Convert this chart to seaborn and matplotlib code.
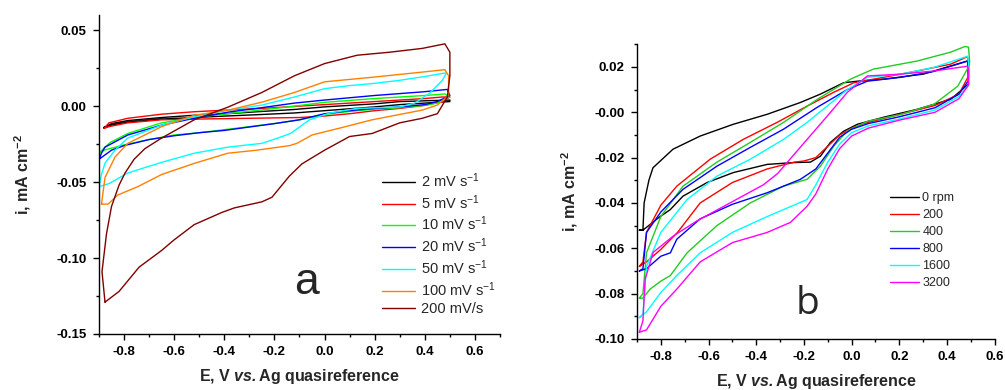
import numpy as np
import pandas as pd
import matplotlib
matplotlib.use("Agg")
import matplotlib.pyplot as plt
from matplotlib.ticker import MultipleLocator, FormatStrFormatter
from matplotlib.lines import Line2D
import seaborn as sns

# ---------------- data: panel a (scan rate) ----------------
a_labels = ["2 mV s$^{-1}$", "5 mV s$^{-1}$", "10 mV s$^{-1}$", "20 mV s$^{-1}$",
            "50 mV s$^{-1}$", "100 mV s$^{-1}$", "200 mV/s"]
a_colors = ["#000000", "#FF0000", "#00FF00", "#0000FF", "#00FFFF", "#FF8000", "#800000"]

a2_E = [-0.88, -0.85, -0.785, -0.65, -0.52, -0.39, -0.25, -0.12, 0.0, 0.2, 0.3, 0.4, 0.5,
        0.5, 0.4, 0.3, 0.2, 0.0, -0.12, -0.25, -0.39, -0.52, -0.65, -0.785, -0.85, -0.88]
a2_i = [-0.014, -0.0115, -0.0095, -0.0075, -0.006, -0.005, -0.0035, -0.0022, -0.0005, 0.0015, 0.003, 0.0035, 0.004,
        0.003, 0.002, 0.001, -0.0005, -0.003, -0.0045, -0.0055, -0.0065, -0.0075, -0.0085, -0.0105, -0.0125, -0.014]

a5_E = [-0.88, -0.86, -0.785, -0.65, -0.52, -0.39, -0.25, -0.12, 0.0, 0.2, 0.4, 0.47, 0.5,
        0.47, 0.4, 0.3, 0.2, 0.1, 0.0, -0.1, -0.3, -0.5, -0.65, -0.785, -0.86, -0.88]
a5_i = [-0.0147, -0.011, -0.008, -0.0053, -0.0037, -0.0026, -0.0015, -0.0002, 0.001, 0.003, 0.005, 0.006, 0.006,
        0.003, 0.0005, -0.0015, -0.003, -0.005, -0.0065, -0.0075, -0.008, -0.0085, -0.009, -0.011, -0.0135, -0.0147]

a10_E = [-0.9, -0.876, -0.856, -0.785, -0.65, -0.52, -0.39, -0.25, -0.12, 0.0, 0.2, 0.4, 0.48,
         0.5, 0.45, 0.4, 0.3, 0.2, 0.1, 0.0, -0.1, -0.2, -0.4, -0.5, -0.6, -0.7, -0.8, -0.88, -0.9]
a10_i = [-0.031, -0.027, -0.024, -0.018, -0.011, -0.0075, -0.005, -0.0025, 0.0, 0.0025, 0.005, 0.007, 0.008,
         0.006, 0.002, 0.0005, -0.001, -0.002, -0.0035, -0.0055, -0.009, -0.0115, -0.0155, -0.0175, -0.019, -0.022, -0.0255, -0.029, -0.031]

a20_E = [-0.9, -0.89, -0.876, -0.785, -0.65, -0.52, -0.386, -0.25, -0.12, 0.0, 0.2, 0.4, 0.49,
         0.5, 0.45, 0.4, 0.3, 0.2, 0.1, 0.0, -0.1, -0.2, -0.4, -0.5, -0.6, -0.7, -0.8, -0.85, -0.9]
a20_i = [-0.035, -0.031, -0.027, -0.019, -0.0125, -0.008, -0.004, -0.001, 0.002, 0.004, 0.007, 0.0095, 0.011,
         0.007, 0.003, 0.001, -0.0005, -0.0015, -0.003, -0.005, -0.009, -0.0115, -0.016, -0.0175, -0.0195, -0.022, -0.026, -0.029, -0.035]

a50_E = [-0.9, -0.89, -0.876, -0.836, -0.785, -0.65, -0.52, -0.386, -0.25, -0.12, 0.0, 0.1, 0.2, 0.3, 0.4, 0.48,
         0.486, 0.47, 0.42, 0.36, 0.3, 0.13, 0.02, -0.06, -0.136, -0.186, -0.25, -0.386, -0.52, -0.65, -0.785, -0.86, -0.9]
a50_i = [-0.053, -0.045, -0.0375, -0.029, -0.021, -0.0125, -0.007, -0.0027, 0.0007, 0.006, 0.0115, 0.0135, 0.015, 0.017, 0.0195, 0.0218,
         0.0217, 0.017, 0.0086, 0.002, -0.0006, -0.0015, -0.0046, -0.009, -0.018, -0.021, -0.0245, -0.027, -0.031, -0.037, -0.044, -0.051, -0.053]

a100_E = [-0.89, -0.876, -0.836, -0.785, -0.65, -0.52, -0.386, -0.25, -0.12, 0.0, 0.19, 0.39, 0.48, 0.495, 0.495,
          0.495, 0.45, 0.39, 0.19, 0.06, -0.05, -0.11, -0.14, -0.27, -0.386, -0.52, -0.65, -0.745, -0.825, -0.864, -0.89]
a100_i = [-0.0645, -0.047, -0.0335, -0.0245, -0.0135, -0.006, -0.0027, 0.0026, 0.009, 0.016, 0.019, 0.0224, 0.024, 0.020, 0.016,
          0.007, 0.0007, -0.0026, -0.009, -0.0145, -0.019, -0.0245, -0.026, -0.029, -0.031, -0.0377, -0.045, -0.053, -0.0585, -0.0645, -0.0645]

a200_E = [-0.876, -0.888, -0.87, -0.85, -0.82, -0.796, -0.76, -0.717, -0.65, -0.52, -0.386, -0.25, -0.12, 0.0, 0.13, 0.26, 0.39, 0.48, 0.5, 0.5,
          0.49, 0.45, 0.39, 0.3, 0.19, 0.1, 0.0, -0.09, -0.14, -0.21, -0.25, -0.36, -0.41, -0.52, -0.6, -0.65, -0.74, -0.82, -0.876]
a200_i = [-0.129, -0.109, -0.084, -0.066, -0.052, -0.044, -0.035, -0.028, -0.021, -0.009, -0.0007, 0.009, 0.020, 0.028, 0.0335, 0.0355, 0.038, 0.041, 0.0355, 0.020,
          0.006, -0.005, -0.008, -0.011, -0.018, -0.020, -0.029, -0.038, -0.046, -0.060, -0.063, -0.067, -0.070, -0.078, -0.088, -0.095, -0.106, -0.122, -0.129]

# ---------------- data: panel b (rotation rate) ----------------
b_labels = ["0 rpm", "200", "400", "800", "1600", "3200"]
b_colors = ["#000000", "#FF0000", "#22CC22", "#0000FF", "#00FFFF", "#FF00FF"]

b0_E = [-0.89, -0.875, -0.87, -0.85, -0.833, -0.749, -0.635, -0.496, -0.354, -0.215, -0.131, -0.034, 0.024, 0.134, 0.30, 0.486,
        0.49, 0.415, 0.275, 0.134, 0.024, -0.034, -0.089, -0.131, -0.173, -0.244, -0.354, -0.496, -0.606, -0.707, -0.761, -0.803, -0.875, -0.89]
b0_i = [-0.052, -0.052, -0.040, -0.030, -0.0245, -0.0163, -0.0105, -0.0053, -0.0009, 0.0043, 0.008, 0.013, 0.0137, 0.0146, 0.0168, 0.0226,
        0.0124, 0.0057, 0.0013, -0.0022, -0.0053, -0.0084, -0.0133, -0.0194, -0.022, -0.0222, -0.023, -0.0266, -0.031, -0.037, -0.043, -0.046, -0.052, -0.052]

b200_E = [-0.89, -0.875, -0.86, -0.80, -0.733, -0.593, -0.455, -0.313, -0.187, -0.075, 0.009, 0.134, 0.275, 0.415, 0.485, 0.49,
          0.49, 0.45, 0.35, 0.2, 0.05, 0.0, -0.05, -0.1, -0.15, -0.2, -0.24, -0.354, -0.5, -0.635, -0.73, -0.8, -0.86, -0.89]
b200_i = [-0.068, -0.066, -0.053, -0.041, -0.0326, -0.0207, -0.012, -0.0045, 0.0027, 0.0088, 0.013, 0.0154, 0.0182, 0.0212, 0.0245, 0.022,
          0.016, 0.008, 0.003, -0.001, -0.005, -0.007, -0.010, -0.015, -0.020, -0.0215, -0.022, -0.025, -0.031, -0.040, -0.053, -0.0605, -0.066, -0.068]

b400_E = [-0.89, -0.875, -0.86, -0.80, -0.707, -0.565, -0.425, -0.286, -0.144, -0.005, 0.09, 0.275, 0.415, 0.475, 0.49, 0.495,
          0.49, 0.445, 0.345, 0.205, 0.066, -0.018, -0.075, -0.131, -0.187, -0.286, -0.425, -0.565, -0.69, -0.76, -0.80, -0.845, -0.875, -0.89]
b400_i = [-0.082, -0.080, -0.062, -0.046, -0.0326, -0.022, -0.0133, -0.0045, 0.0057, 0.0146, 0.019, 0.0226, 0.0265, 0.029, 0.0287, 0.022,
          0.020, 0.0115, 0.0035, -0.001, -0.004, -0.0082, -0.015, -0.0238, -0.0296, -0.0326, -0.040, -0.050, -0.062, -0.072, -0.0745, -0.078, -0.082, -0.082]

b800_E = [-0.89, -0.875, -0.86, -0.8, -0.707, -0.565, -0.425, -0.286, -0.144, -0.018, 0.066, 0.205, 0.345, 0.486, 0.49,
          0.49, 0.45, 0.35, 0.2, 0.07, 0.0, -0.05, -0.1, -0.15, -0.215, -0.354, -0.5, -0.635, -0.733, -0.76, -0.8, -0.86, -0.89]
b800_i = [-0.070, -0.069, -0.053, -0.044, -0.034, -0.0238, -0.0155, -0.0075, 0.0022, 0.010, 0.0137, 0.0154, 0.018, 0.0226, 0.021,
          0.014, 0.008, 0.002, -0.002, -0.005, -0.0075, -0.011, -0.018, -0.025, -0.0296, -0.0355, -0.0406, -0.047, -0.056, -0.062, -0.0635, -0.069, -0.070]

b1600_E = [-0.89, -0.875, -0.86, -0.8, -0.69, -0.565, -0.425, -0.286, -0.187, -0.103, -0.018, 0.066, 0.205, 0.345, 0.486, 0.49,
           0.49, 0.45, 0.35, 0.2, 0.07, 0.0, -0.05, -0.1, -0.15, -0.187, -0.354, -0.5, -0.635, -0.733, -0.8, -0.86, -0.89]
b1600_i = [-0.0906, -0.089, -0.068, -0.053, -0.0385, -0.0282, -0.0207, -0.012, -0.0045, 0.0027, 0.010, 0.0154, 0.0168, 0.0198, 0.0247, 0.022,
           0.012, 0.007, 0.001, -0.003, -0.006, -0.009, -0.014, -0.022, -0.032, -0.0385, -0.046, -0.053, -0.062, -0.072, -0.0795, -0.088, -0.0906]

b3200_E = [-0.89, -0.875, -0.866, -0.832, -0.749, -0.65, -0.51, -0.37, -0.31, -0.187, -0.103, -0.018, 0.066, 0.205, 0.345, 0.486, 0.49,
           0.49, 0.45, 0.35, 0.2, 0.07, 0.0, -0.05, -0.1, -0.15, -0.187, -0.257, -0.354, -0.5, -0.635, -0.733, -0.8, -0.86, -0.89]
b3200_i = [-0.097, -0.092, -0.0737, -0.0618, -0.0547, -0.048, -0.040, -0.032, -0.027, -0.012, -0.0018, 0.0088, 0.016, 0.0168, 0.0182, 0.0203, 0.019,
           0.012, 0.006, 0.0, -0.0035, -0.007, -0.0105, -0.016, -0.025, -0.036, -0.0415, -0.0486, -0.053, -0.0575, -0.066, -0.078, -0.0856, -0.096, -0.097]

a_E = [a2_E, a5_E, a10_E, a20_E, a50_E, a100_E, a200_E]
a_i = [a2_i, a5_i, a10_i, a20_i, a50_i, a100_i, a200_i]
b_E = [b0_E, b200_E, b400_E, b800_E, b1600_E, b3200_E]
b_i = [b0_i, b200_i, b400_i, b800_i, b1600_i, b3200_i]


def frame(labels, Es, Is):
    rows = []
    for lab, E, I in zip(labels, Es, Is):
        for k, (e, v) in enumerate(zip(E, I)):
            rows.append((lab, k, e, v))
    return pd.DataFrame(rows, columns=["scan", "order", "E", "i"])


df_a = frame(a_labels, a_E, a_i)
df_b = frame(b_labels, b_E, b_i)

sns.set_style("ticks")
plt.rcParams["font.family"] = ["Liberation Sans", "DejaVu Sans"]
plt.rcParams["mathtext.fontset"] = "custom"
plt.rcParams["mathtext.rm"] = "Liberation Sans"
plt.rcParams["mathtext.it"] = "Liberation Sans:italic"
plt.rcParams["mathtext.bf"] = "Liberation Sans:bold"
plt.rcParams["mathtext.bfit"] = "Liberation Sans:italic:bold"
plt.rcParams["mathtext.default"] = "regular"

fig = plt.figure(figsize=(10.05, 3.9), dpi=100)
ax1 = fig.add_axes([0.0985, 0.1436, 0.399, 0.818])
ax2 = fig.add_axes([0.6338, 0.1308, 0.356, 0.7558])

sns.lineplot(data=df_a, x="E", y="i", hue="scan", hue_order=a_labels, palette=a_colors,
             sort=False, estimator=None, units="scan", legend=False, ax=ax1, linewidth=1.0)
sns.lineplot(data=df_b, x="E", y="i", hue="scan", hue_order=b_labels, palette=b_colors,
             sort=False, estimator=None, units="scan", legend=False, ax=ax2, linewidth=1.0)

xlab = r"E, V $\mathbfit{vs.}$Ag quasireference"
ylab = r"i, mA cm$^{-2}$"

for ax, xlim, ylim, ymaj, ymin, ypad in [(ax1, (-0.9, 0.7), (-0.15, 0.06), 0.05, 0.025, 17),
                                         (ax2, (-0.9, 0.6), (-0.10, 0.03), 0.02, 0.01, 10)]:
    ax.set_xlim(*xlim)
    ax.set_ylim(*ylim)
    ax.xaxis.set_major_locator(MultipleLocator(0.2))
    ax.xaxis.set_minor_locator(MultipleLocator(0.1))
    ax.yaxis.set_major_locator(MultipleLocator(ymaj))
    ax.yaxis.set_minor_locator(MultipleLocator(ymin))
    ax.xaxis.set_major_formatter(FormatStrFormatter("%.1f"))
    ax.yaxis.set_major_formatter(FormatStrFormatter("%.2f"))
    sns.despine(ax=ax)
    for s in ("left", "bottom"):
        ax.spines[s].set_linewidth(1.0)
        ax.spines[s].set_color("black")
    ax.tick_params(which="major", direction="out", length=4, width=1, colors="black",
                   labelsize=9.5, pad=5)
    ax.tick_params(which="minor", direction="out", length=2.5, width=1, colors="black")
    for lab in ax.get_xticklabels() + ax.get_yticklabels():
        lab.set_fontweight("bold")
    ax.set_xlabel(xlab, fontsize=11.5, fontweight="bold", labelpad=6)
    ax.set_ylabel(ylab, fontsize=11.5, fontweight="bold", labelpad=ypad)

# legends
ha = [Line2D([0], [0], color=c, lw=1.0) for c in a_colors]
ax1.legend(ha, a_labels, loc="upper left", bbox_to_anchor=(0.380, 0.561), bbox_transform=fig.transFigure,
           frameon=False, fontsize=10.5, handlelength=2.3, handletextpad=0.4, labelspacing=0.22,
           borderpad=0, borderaxespad=0)
hb = [Line2D([0], [0], color=c, lw=1.0) for c in b_colors]
ax2.legend(hb, b_labels, loc="upper left", bbox_to_anchor=(0.886, 0.508), bbox_transform=fig.transFigure,
           frameon=False, fontsize=9, handlelength=2.3, handletextpad=0.25, labelspacing=0.40,
           borderpad=0, borderaxespad=0)

ax1.text(-0.071, -0.124, "a", fontsize=32, ha="center", va="baseline", family="Liberation Sans")
ax2.text(-0.186, -0.089, "b", fontsize=28, ha="center", va="baseline", family="Open Sans")

fig.savefig("out.png", dpi=100)
